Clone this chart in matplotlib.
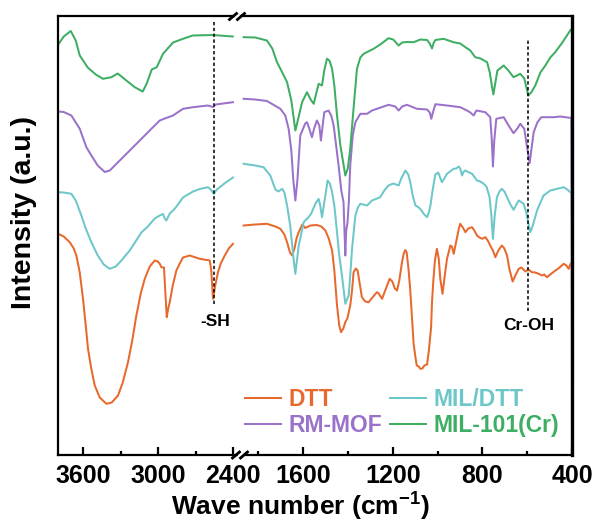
import matplotlib
matplotlib.use("Agg")
import matplotlib.pyplot as plt
from matplotlib.lines import Line2D
from matplotlib.patches import Rectangle

plt.rcParams['font.family'] = ['Liberation Sans', 'DejaVu Sans']
plt.rcParams['font.weight'] = 'bold'
plt.rcParams['mathtext.fontset'] = 'custom'
plt.rcParams['mathtext.bf'] = 'Liberation Sans:bold'
plt.rcParams['mathtext.rm'] = 'Liberation Sans:bold'
plt.rcParams['mathtext.default'] = 'bf'

# ---------------- data (wavenumber in cm-1, intensity in a.u., offset stacked) ----------------
labels = ["DTT", "RM-MOF", "MIL/DTT", "MIL-101(Cr)"]
colors = ["#E8692D", "#9B72C9", "#6DC7C9", "#3DAE63"]

# left segment (3800 - 2400)
dtt_wl = [3800, 3754, 3706, 3674, 3653, 3626, 3600, 3578, 3560, 3534, 3506, 3466, 3413, 3370, 3320, 3282,
          3240, 3206, 3173, 3138, 3106, 3066, 3026, 3002, 2986, 2973, 2952, 2942, 2930, 2918, 2906, 2882,
          2853, 2826, 2800, 2746, 2666, 2586, 2574, 2560, 2542, 2520, 2498, 2466, 2434, 2400]
dtt_vl = [220.7, 218, 212.3, 206, 199, 182, 155.7, 129, 105.7, 86, 69, 57, 50.7, 52, 59, 72,
          92.3, 114, 139, 161, 175.7, 188, 194, 193, 190.7, 187.3, 187, 164, 137.3, 146, 152.3, 169,
          184, 191, 197, 199, 195.7, 194, 184, 155.7, 169, 182.3, 191, 199, 206, 210.7]

rm_wl = [3800, 3754, 3693, 3626, 3573, 3533, 3482, 3426, 3386, 3306, 3226, 3146, 3053, 2986, 2946, 2880,
         2800, 2720, 2602, 2560, 2538, 2400]
rm_vl = [343, 342.5, 339, 325.7, 307.3, 299, 289, 282.5, 284, 294, 304, 314, 325.7, 334, 336, 339,
         345.7, 347.3, 349, 347.5, 350, 352.3]

mil_dtt_wl = [3800, 3754, 3693, 3658, 3613, 3578, 3533, 3482, 3434, 3386, 3338, 3293, 3226, 3133, 3082,
              3026, 2986, 2960, 2946, 2933, 2906, 2866, 2800, 2720, 2666, 2600, 2578, 2554, 2530, 2506,
              2458, 2400]
mil_dtt_vl = [262.3, 262, 260.7, 254, 239, 226, 212.3, 199, 190, 185.7, 188, 194, 204, 222, 228,
              236, 239, 240.5, 236, 234, 241, 245.7, 257, 263, 265.5, 267.3, 265, 260.7, 265, 267.3,
              272, 277]

mil_wl = [3800, 3754, 3698, 3658, 3626, 3562, 3498, 3440, 3373, 3322, 3253, 3186, 3122, 3090, 3050,
          3010, 2960, 2880, 2800, 2722, 2562, 2402]
mil_vl = [409.7, 418, 423.5, 414, 399, 387, 380, 375.7, 377.3, 381, 374, 367.3, 363, 371, 385,
          387.3, 400.7, 412, 415.7, 419, 419.5, 418]

# right segment (1900 - 400)
dtt_wr = [1866, 1814, 1762, 1724, 1702, 1684, 1672, 1659, 1649, 1639, 1630, 1620, 1604, 1591, 1568, 1539,
          1519, 1501, 1486, 1471, 1461, 1449, 1439, 1431, 1421, 1412, 1403, 1390, 1382, 1375, 1365, 1357,
          1350, 1338, 1323, 1308, 1291, 1271, 1263, 1248, 1234, 1214, 1202, 1191, 1181, 1171, 1159, 1151,
          1144, 1138, 1130, 1122, 1115, 1107, 1099, 1093, 1084, 1077, 1068, 1059, 1047, 1039, 1029, 1025,
          1019, 1012, 1003, 995, 988, 978, 968, 958, 943, 936, 928, 916, 905, 899, 887, 876, 863, 846,
          836, 824, 813, 801, 787, 776, 765, 753, 742, 729, 713, 702, 690, 680, 665, 653, 638, 626, 608,
          595, 579, 564, 549, 534, 524, 512, 497, 474, 461, 437, 425, 415, 408, 401, 400]
dtt_vr = [229, 230, 230.7, 228, 225.7, 220, 212.3, 202, 199, 206, 216, 222.3, 230, 226.5, 229, 229.5,
          228, 224, 216, 204, 184, 149, 129, 122.3, 126, 132.3, 136, 149, 164, 182.3, 186, 184,
          174, 157.3, 153, 152.3, 157, 162.3, 161, 155.7, 164, 175.7, 173, 166, 164, 174, 192.3, 201,
          204.5, 202, 185.7, 164, 139, 110.7, 97.3, 89, 88, 85.7, 86, 89, 90, 104, 127.3, 152.3,
          174, 194, 205.7, 196, 175.7, 160.7, 179, 195.7, 209, 208, 200.7, 214, 226, 230.7, 227, 222.3, 226, 227.3,
          224, 219, 217, 215.7, 217.3, 214, 209, 204, 197.3, 204, 209, 206, 199, 186, 173, 179, 185.7, 187, 183,
          185, 182.3, 182, 180.7, 179, 180, 177.3, 180, 184, 186, 190.7, 189, 185.7, 190, 192, 0]

rm_wr = [1866, 1814, 1762, 1702, 1680, 1665, 1653, 1644, 1635, 1626, 1613, 1591, 1583, 1573, 1561, 1551,
         1539, 1528, 1521, 1513, 1506, 1487, 1475, 1464, 1442, 1430, 1420, 1412, 1408, 1402, 1396, 1390,
         1379, 1367, 1345, 1315, 1293, 1271, 1219, 1189, 1174, 1158, 1137, 1092, 1047, 1035, 1028, 1021,
         1010, 958, 899, 869, 854, 839, 827, 787, 765, 758, 753, 747, 738, 705, 683, 661, 644, 631, 613,
         602, 589, 582, 571, 555, 537, 482, 452, 411, 403, 400]
rm_vr = [355.7, 355, 353.5, 345.7, 339, 325.7, 304, 274, 254, 274, 319, 331, 332.3, 326, 317.3, 326,
         334, 329, 314, 329, 342.3, 344, 339, 329, 289, 264, 252.3, 199, 224, 232.3, 254, 289,
         319, 332.3, 340.7, 340.7, 344, 345.7, 349.7, 348, 344, 348, 349.7, 345.7, 345, 342, 335.7, 342,
         350.3, 349, 347.3, 344, 342, 339, 344, 342.3, 337.3, 314, 288, 314, 335.7, 337.3, 329, 321.3, 326, 330.7, 325.7,
         309, 291.3, 304, 322.3, 332, 337.3, 337.3, 338, 336.7, 337, 151]

mil_dtt_wr = [1866, 1814, 1777, 1747, 1724, 1711, 1694, 1684, 1672, 1658, 1643, 1635, 1629, 1620, 1613,
              1598, 1576, 1564, 1546, 1531, 1524, 1516, 1508, 1501, 1491, 1481, 1471, 1461, 1449, 1439,
              1427, 1419, 1412, 1397, 1390, 1382, 1367, 1356, 1345, 1315, 1293, 1256, 1238, 1219, 1198,
              1174, 1162, 1144, 1131, 1122, 1111, 1099, 1085, 1072, 1062, 1047, 1039, 1032, 1021, 1010,
              997, 981, 970, 958, 929, 917, 906, 899, 891, 883, 876, 862, 846, 824, 809, 794, 782, 768,
              760, 753, 745, 735, 724, 713, 702, 690, 675, 661, 638, 631, 616, 604, 593, 586, 575, 556,
              541, 527, 497, 467, 437, 421, 408, 401, 400]
mil_dtt_vr = [290.7, 289, 287.3, 279, 265, 263, 265.7, 262, 249, 229, 195.7, 180.7, 192, 209, 216,
              232.3, 237.3, 241, 250.7, 255.7, 249, 237.3, 249, 259, 274, 271, 262.3, 249, 222.3, 199,
              179, 164, 150.7, 159, 179, 205.7, 239, 247, 250.7, 249, 254, 257.3, 264, 269, 271,
              269, 276, 284, 280, 272.3, 259, 249, 247.3, 244, 240.7, 237.3, 242, 249, 266, 280,
              282, 272.3, 276, 280.7, 285.7, 286, 288, 286, 279, 283, 284, 282.3, 280.7, 274, 273, 270.7, 268, 257.3,
              239, 215.7, 239, 257.3, 263, 265.7, 263, 257.3, 250, 244.7, 254, 253, 250.7, 242, 229, 222.3, 229, 244,
              252, 259, 264, 265.7, 267.3, 265, 262.3, 262, 129]

mil_wr = [1866, 1814, 1762, 1738, 1717, 1698, 1672, 1653, 1635, 1622, 1605, 1583, 1576, 1564, 1553, 1541,
          1531, 1516, 1506, 1494, 1483, 1471, 1461, 1449, 1434, 1412, 1401, 1390, 1376, 1360, 1345, 1330,
          1286, 1256, 1219, 1198, 1174, 1158, 1137, 1107, 1077, 1047, 1035, 1025, 1017, 1010, 973, 929,
          899, 876, 854, 832, 809, 779, 767, 758, 751, 742, 733, 705, 684, 661, 631, 613, 595, 582, 564,
          541, 519, 497, 475, 443, 408, 400]
mil_vr = [417.3, 417, 414, 406, 392.3, 384, 372.3, 354, 324, 336, 352.3, 362.3, 359, 354, 350.7, 362,
          370.7, 369, 384, 395.7, 394, 385.7, 369, 339, 309, 279, 286, 305.7, 344, 385.7, 397, 400.7,
          405.7, 410, 416.3, 415, 409, 412, 412.5, 412.3, 415, 414.5, 411, 406, 412, 414.5, 415.7, 412.3,
          411, 407.3, 404, 397.3, 396, 392.3, 382, 369, 360, 372, 384, 389, 384, 377.3, 380.7, 376, 359, 362, 369,
          382, 389, 397, 402.3, 412, 424, 426]

left_series = [(dtt_wl, dtt_vl), (rm_wl, rm_vl), (mil_dtt_wl, mil_dtt_vl), (mil_wl, mil_vl)]
right_series = [(dtt_wr, dtt_vr), (rm_wr, rm_vr), (mil_dtt_wr, mil_dtt_vr), (mil_wr, mil_vr)]

# marker lines
sh_pos, sh_range = 2555, (151, 434)
croh_pos, croh_range = 595, (144, 416)

# ---------------- figure ----------------
W, H = 597, 527
fig = plt.figure(figsize=(W / 100, H / 100), dpi=100)

def fx(px):
    return px / W

def fy(py):
    return 1 - py / H

ax_bot, ax_top = 454.5, 16
xl0, xbrk, xr1 = 58, 236, 572
ax1 = fig.add_axes([fx(xl0), fy(ax_bot), fx(xbrk - xl0), (ax_bot - ax_top) / H])
ax2 = fig.add_axes([fx(xbrk), fy(ax_bot), fx(xr1 - xbrk), (ax_bot - ax_top) / H])

lw = 1.45
handles = []
for (wl, vl), (wr, vr), c, lab in zip(left_series, right_series, colors, labels):
    ax1.plot(wl, vl, color=c, lw=lw)
    h, = ax2.plot(wr, vr, color=c, lw=lw, label=lab)
    handles.append(h)

ax1.set_xlim(3800, 2376)
ax2.set_xlim(1900, 400)
for ax in (ax1, ax2):
    ax.set_ylim(0, 438.5)
    ax.set_yticks([])
    for s in ax.spines.values():
        s.set_linewidth(1.6)
        s.set_color('black')
    ax.tick_params(axis='x', which='major', direction='in', length=6, width=1.6,
                   labelsize=18, pad=7)
    ax.tick_params(axis='x', which='minor', direction='in', length=3, width=1.6)
ax1.spines['right'].set_visible(False)
ax2.spines['left'].set_visible(False)
ax2.spines['right'].set_linewidth(2.4)

ax1.set_xticks([3600, 3000, 2400])
ax1.set_xticks([3300, 2700], minor=True)
ax2.set_xticks([1600, 1200, 800, 400])
ax2.set_xticks([1800, 1400, 1000, 600], minor=True)
for ax in (ax1, ax2):
    for t in ax.get_xticklabels():
        t.set_fontweight('bold')

dash = (0, (2.2, 1.6))
ax1.plot([sh_pos, sh_pos], sh_range, color='black', lw=1.1, ls=dash)
ax2.plot([croh_pos, croh_pos], croh_range, color='black', lw=1.1, ls=dash)
fig.text(fx(215.5), fy(321), "-SH", ha='center', va='center', fontsize=12.5, fontweight='bold')
fig.text(fx(529), fy(325), "Cr-OH", ha='center', va='center', fontsize=12.5, fontweight='bold')

# axis break marks
for yb, xc in ((16.5, 237), (455, 240)):
    fig.patches.append(Rectangle((fx(xc - 2), fy(yb + 2)), fx(4), 4 / H,
                                 transform=fig.transFigure, color='white', zorder=10))
    for dx in (-4, 4):
        x0 = xc + dx
        fig.lines.append(Line2D([fx(x0 - 3.5), fx(x0 + 3.5)], [fy(yb + 3), fy(yb - 3)],
                                transform=fig.transFigure, color='black', lw=2.0, zorder=11))

# labels
fig.text(fx(24), fy(212), "Intensity (a.u.)", rotation=90, ha='center', va='center',
         fontsize=20.5, fontweight='bold')
fig.text(fx(300), fy(507), r"Wave number (cm$^{-1}$)", ha='center', va='center',
         fontsize=19, fontweight='bold')

leg = fig.legend(handles=handles, ncol=2, loc='upper left',
                 bbox_to_anchor=(fx(245), fy(388)), bbox_transform=fig.transFigure,
                 frameon=False, handlelength=1.55, handletextpad=0.35,
                 columnspacing=0.35, labelspacing=0.15, borderpad=0, borderaxespad=0,
                 labelcolor='linecolor', prop={'weight': 'bold', 'size': 16.5})
for h in leg.get_lines():
    h.set_linewidth(1.45)

fig.savefig("out.png", dpi=100)
